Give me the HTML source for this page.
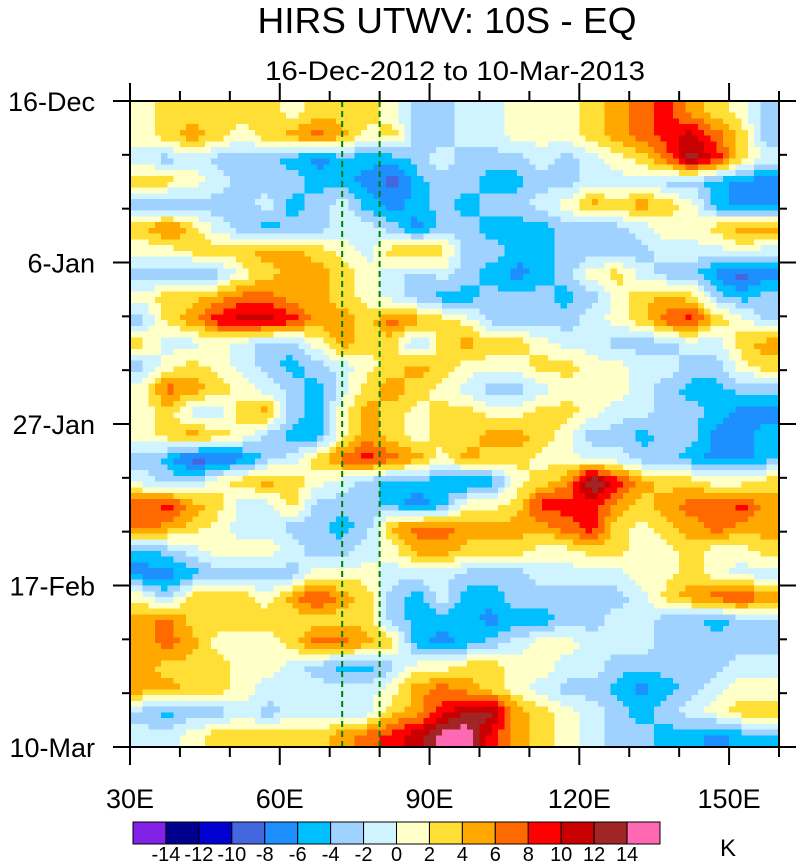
<!DOCTYPE html>
<html><head><meta charset="utf-8"><style>
html,body{margin:0;padding:0;background:#fff;width:798px;height:863px;overflow:hidden}
svg{display:block;font-family:"Liberation Sans",sans-serif}
</style></head><body>
<svg id="chart" width="798" height="863" viewBox="0 0 798 863" xmlns="http://www.w3.org/2000/svg">
<text x="447" y="33" font-size="36" text-anchor="middle" textLength="379" lengthAdjust="spacingAndGlyphs">HIRS UTWV: 10S - EQ</text>
<text x="455" y="80" font-size="27" text-anchor="middle" textLength="380" lengthAdjust="spacingAndGlyphs">16-Dec-2012 to 10-Mar-2013</text>
<g id="cells" shape-rendering="crispEdges"></g>
<g id="refs"></g>
<g id="axes"></g>
<g id="cbar"></g>
<text x="728" y="856" font-size="24" text-anchor="middle">K</text>
</svg>
<script>
// Longitude columns (5° bins, centers) and time rows (3-day bins)
const lonStart = 30, lonEnd = 160, lonStep = 5;
const dayTotal = 84, dayStep = 3;
const xTickLabels = ["30E","60E","90E","120E","150E"];
const xTickValues = [30,60,90,120,150];
const yTickLabels = ["16-Dec","6-Jan","27-Jan","17-Feb","10-Mar"];
const yTickDays = [0,21,42,63,84];
const refLons = [72.5, 80];
const levels = [-14,-12,-10,-8,-6,-4,-2,0,2,4,6,8,10,12,14];
const levelLabels = ["-14","-12","-10","-8","-6","-4","-2","0","2","4","6","8","10","12","14"];
const colors = ["#8122e6","#00008f","#0000d0","#4267df","#1e8fff","#00bfff","#a0d2ff","#d0f4ff","#ffffc8","#ffdf35","#ffa800","#ff6a00","#ff0000","#c80000","#a22525","#ff69b4"];
// anomaly values (K), rows = time, cols = longitude
const anomalies = [
[1,3,3,3,3,3,1,3,3,3,1,-3,-3,-1,-1,1,1,1,3,5,7,9,5,3,1,-3],
[1,3,5,3,1,3,5,7,5,1,3,-3,-3,-1,-1,1,1,1,3,5,7,9,11,7,3,-3],
[-1,-3,-1,-3,-3,-3,-5,-7,-5,-5,-5,-3,-1,-3,-3,-3,-1,-3,-1,1,3,7,13,9,3,-1],
[3,3,1,-1,-3,-3,-3,-5,-5,-7,-9,-5,-3,-3,-5,-5,-3,-3,-1,-1,-1,-3,-3,-5,-7,-7],
[-3,-5,-3,-3,-3,-1,-5,-3,-1,-5,-7,-5,-3,-5,-3,-3,-1,1,5,3,5,3,1,-5,-7,-7],
[3,7,3,-1,-3,-5,-3,-3,-1,-1,-3,-7,-3,-3,-5,-5,-5,-3,-3,-3,-1,1,1,3,5,5],
[1,1,3,3,3,5,5,3,1,-1,3,5,3,-3,-3,-5,-5,-3,-3,-3,-3,-1,-1,-1,1,-1],
[-3,-3,-5,-3,1,3,5,5,3,1,-1,-3,-1,-3,-5,-7,-5,-3,1,3,-1,-3,-3,-7,-9,-7],
[1,3,3,5,7,7,5,5,3,1,-1,-3,-5,-5,-3,-3,-3,-5,-3,1,3,5,3,-3,-5,-3],
[-3,3,5,9,11,11,9,5,5,3,7,5,3,1,-3,-3,-3,-3,-1,1,3,7,9,3,1,-3],
[3,-1,-1,1,-1,-3,-3,1,5,3,3,-3,3,5,3,3,1,-1,-1,-3,-3,-3,-1,-1,3,5],
[-3,1,3,1,-1,-3,-5,-3,-1,1,3,5,3,1,1,1,3,3,1,1,-1,-1,-3,-3,1,3],
[1,7,5,3,1,-1,-3,-5,-1,3,5,3,1,-1,-3,-3,-1,1,1,1,-1,-3,-5,-5,-3,-3],
[1,3,-1,-1,3,5,-3,-5,1,5,3,1,3,3,1,1,3,3,1,-1,-1,-3,-3,-5,-7,-7],
[1,3,5,3,1,-3,-5,-5,1,5,3,1,3,3,5,5,3,1,-3,-3,-5,-3,-3,-7,-7,-5],
[-3,-5,-9,-9,-7,-3,-1,3,7,9,7,5,1,5,3,3,1,1,-1,-1,-3,-3,-5,-7,-7,-5],
[-1,-3,-3,1,3,5,3,1,-1,-3,-5,-5,-5,-7,-5,1,3,5,15,9,5,3,3,1,1,3],
[7,9,5,3,-1,-1,3,-3,-3,-3,-5,-7,-5,1,1,3,9,9,9,5,3,5,7,7,9,5],
[7,5,3,1,-1,-1,-3,-3,-5,-3,5,7,7,5,5,5,5,7,9,3,1,3,5,7,5,5],
[-5,-3,-1,1,1,1,-1,-3,-3,-1,1,5,5,3,3,3,1,1,3,3,1,1,3,1,1,3],
[-7,-7,-5,-3,-3,-3,-3,1,1,1,-1,-1,-1,-3,-3,-3,-1,-1,-1,-1,1,1,3,1,-1,-1],
[1,-3,3,3,3,1,5,9,5,3,-3,-5,-1,-5,-5,-3,-3,-3,-3,-3,-1,3,5,7,9,5],
[5,7,3,3,3,3,3,3,3,3,-3,-5,-5,-5,-7,-5,-5,-3,-3,-1,-1,-3,-3,-5,-3,-3],
[5,7,5,1,1,1,3,7,7,5,3,-5,-7,-5,-3,-1,1,1,-1,-1,-1,-3,-3,-3,-3,-3],
[5,3,3,3,1,1,-1,-3,-5,-5,-3,1,1,3,3,1,1,-1,-1,-3,-3,-3,-3,-3,-1,-1],
[5,5,3,3,1,-1,-1,-1,-1,-1,1,5,7,5,3,1,-1,-3,-3,-5,-7,-5,-3,-1,1,1],
[-3,-5,-3,-3,-1,-3,-1,-1,-1,-1,3,5,9,13,13,5,3,1,-1,-3,-5,-3,-1,1,3,3],
[-1,-1,1,3,3,3,3,3,5,7,9,11,15,15,9,5,3,1,-1,-3,-3,-5,-5,-7,-5,-5]
];
const NS="http://www.w3.org/2000/svg";
const PL=130, PR=779, PT=101, PB=747;
const xScale = lon => PL + (lon-lonStart)/(lonEnd-lonStart)*(PR-PL);
const yScale = d => PT + d/dayTotal*(PB-PT);
function colorFor(v){let i=0;while(i<levels.length && v>=levels[i]) i++;return colors[i];}
function mk(tag, attrs, parent){const e=document.createElementNS(NS,tag);for(const k in attrs)e.setAttribute(k,attrs[k]);parent.appendChild(e);return e;}
// bilinear sample of the grid (value located at cell centres)
const nR=anomalies.length, nC=anomalies[0].length;
function sample(lon, day){
  let fc=(lon-lonStart)/lonStep-0.5, fr=day/dayStep-0.5;
  fc=Math.max(0,Math.min(nC-1,fc)); fr=Math.max(0,Math.min(nR-1,fr));
  const c0=Math.floor(fc), r0=Math.floor(fr), c1=Math.min(nC-1,c0+1), r1=Math.min(nR-1,r0+1);
  const tx=fc-c0, ty=fr-r0;
  const a=anomalies[r0][c0]*(1-tx)+anomalies[r0][c1]*tx;
  const b=anomalies[r1][c0]*(1-tx)+anomalies[r1][c1]*tx;
  return a*(1-ty)+b*ty;
}
const cells=document.getElementById('cells');
const SUBX=4, SUBY=4;
for(let r=0;r<nR*SUBY;r++){
  const d0=r*dayStep/SUBY, d1=Math.min(dayTotal,(r+1)*dayStep/SUBY);
  const y0=yScale(d0), y1=yScale(d1);
  // merge consecutive sub-cells of same colour into one rect
  let runStart=null, runColor=null;
  const flush=(endLon)=>{
    if(runColor===null) return;
    const x0=xScale(runStart), x1=xScale(endLon);
    const el=mk('rect',{x:x0,y:y0,width:x1-x0+0.6,height:y1-y0+0.6,fill:runColor},cells);
    
    
  };
  for(let c=0;c<nC*SUBX;c++){
    const l0=lonStart+c*lonStep/SUBX, l1=Math.min(lonEnd,lonStart+(c+1)*lonStep/SUBX);
    const v=sample((l0+l1)/2,(d0+d1)/2);
    const col=colorFor(v);
    if(col!==runColor){flush(l0);runStart=l0;runColor=col;}
    if(c===nC*SUBX-1) flush(l1);
  }
}
const refs=document.getElementById('refs');
refLons.forEach(l=>{
  const el=mk('line',{x1:xScale(l),x2:xScale(l),y1:PT,y2:PB,stroke:'#008000','stroke-width':2,'stroke-dasharray':'6,4'},refs);
  
  
});
const axes=document.getElementById('axes');
const frame=mk('rect',{x:PL,y:PT,width:PR-PL,height:PB-PT,fill:'none',stroke:'#000','stroke-width':2},axes);


for(let lon=lonStart; lon<=lonEnd; lon+=10){
  const major = xTickValues.includes(lon);
  const L = major?18:10, x=xScale(lon);
  mk('line',{x1:x,x2:x,y1:PB,y2:PB+L,stroke:'#000','stroke-width':2},axes);
  mk('line',{x1:x,x2:x,y1:PT,y2:PT-L,stroke:'#000','stroke-width':2},axes);
}
xTickValues.forEach((v,i)=>{
  const t=mk('text',{x:xScale(v),y:808,'font-size':27,'text-anchor':'middle'},axes);
  t.textContent=xTickLabels[i];
  
  
});
for(let d=0; d<=dayTotal; d+=7){
  const major = yTickDays.includes(d);
  const L = major?17:8, y=yScale(d);
  mk('line',{x1:PL,x2:PL-L,y1:y,y2:y,stroke:'#000','stroke-width':2},axes);
  mk('line',{x1:PR,x2:PR+L,y1:y,y2:y,stroke:'#000','stroke-width':2},axes);
}
yTickDays.forEach((d,i)=>{
  const t=mk('text',{x:95,y:yScale(d)+10,'font-size':27,'text-anchor':'end'},axes);
  t.textContent=yTickLabels[i];
  
  
});
const cb=document.getElementById('cbar');
const CBX=133, CBW=527, CBY=822, CBH=22, bw=CBW/colors.length;
colors.forEach((c,i)=>{
  const el=mk('rect',{x:CBX+i*bw,y:CBY,width:bw,height:CBH,fill:c,stroke:'#000','stroke-width':1},cb);
  
  
});
levelLabels.forEach((s,i)=>{
  const t=mk('text',{x:CBX+(i+1)*bw,y:861,'font-size':20,'text-anchor':'middle'},cb);
  t.textContent=s;
  
  
});
</script>
</body></html>
